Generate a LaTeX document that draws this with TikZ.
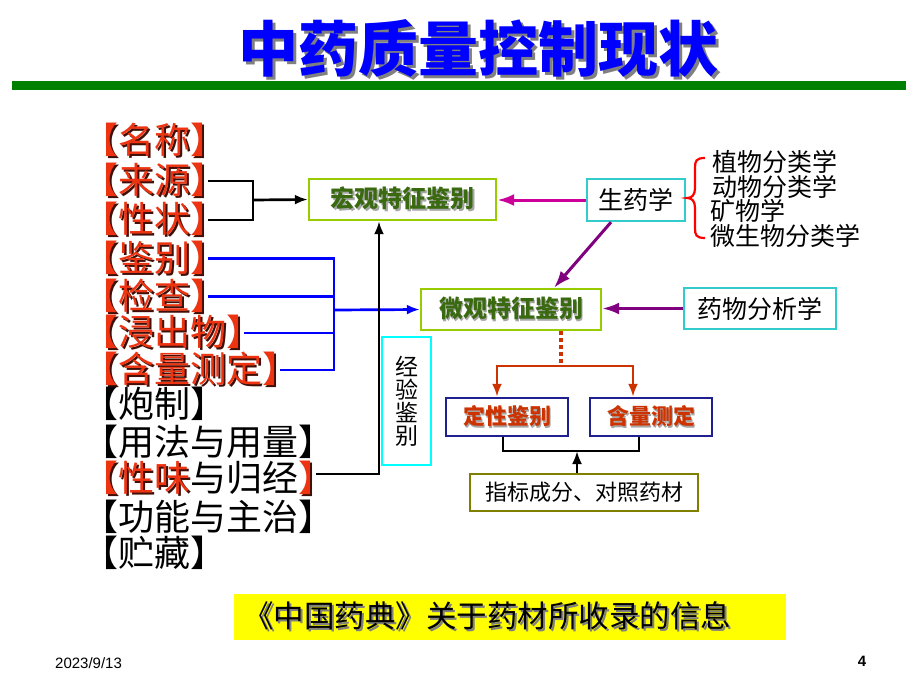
\documentclass[tikz,border=0pt]{standalone}
\usepackage{fontspec}
\setmainfont{Noto Sans CJK SC}
\newfontfamily\hfont[RawFeature=+halt]{Noto Sans CJK SC}
\newfontfamily\arial{Liberation Sans}
\usetikzlibrary{arrows.meta}
\definecolor{titleblue}{HTML}{0000FF}
\definecolor{barGreen}{HTML}{008000}
\definecolor{listred}{HTML}{EE3311}
\definecolor{redshadow}{HTML}{401008}
\definecolor{boxgreen}{HTML}{99CC00}
\definecolor{txtgreen}{HTML}{3A6A10}
\definecolor{tealb}{HTML}{33CCCC}
\definecolor{cyanb}{HTML}{00FFFF}
\definecolor{magarrow}{HTML}{CC0099}
\definecolor{purp}{HTML}{800080}
\definecolor{orred}{HTML}{CC3300}
\definecolor{navyb}{HTML}{1F1F8F}
\definecolor{oliveb}{HTML}{808000}
\definecolor{yel}{HTML}{FFFF00}
\newcommand\shd[4]{\makebox[0pt][l]{\kern#4\raisebox{-#4}{\textcolor{#1}{#3}}}\textcolor{#2}{#3}}
\begin{document}
\begin{tikzpicture}[x=1pt,y=-1pt,
  item/.style={anchor=west, inner sep=0pt, font=\hfont\fontsize{36}{36}\selectfont},
  ritem/.style={anchor=west, inner sep=0pt, font=\fontsize{25}{25}\selectfont},
  tip/.style={-{Latex[length=13pt,width=10pt]}},
  bigtip/.style={-{Latex[length=17pt,width=12pt]}},
  blkline/.style={draw=black, line width=2.7pt},
  blueline/.style={draw=blue, line width=2.7pt},
  magline/.style={draw=magarrow, line width=3pt},
  purpline/.style={draw=purp, line width=3pt},
  orline/.style={draw=orred, line width=2.7pt},
  gbox/.style={draw=boxgreen, line width=2.4pt, inner sep=0pt, minimum height=41pt, font=\fontsize{24}{24}\selectfont\bfseries},
  tbox/.style={draw=tealb, line width=2.4pt, inner sep=0pt, minimum height=41pt, font=\fontsize{25}{25}\selectfont},
  nbox/.style={draw=navyb, line width=2.4pt, inner sep=0pt, minimum width=122pt, minimum height=38pt, font=\fontsize{22}{22}\selectfont\bfseries},
  ]
\useasboundingbox (0,0) rectangle (920,690);
\fill[white] (0,0) rectangle (920,690);

% title
\node[inner sep=0pt, font=\fontsize{60}{60}\selectfont\bfseries] (title) at (478,50) {\shd{gray}{titleblue}{中药质量控制现状}{3.5pt}};
\fill[barGreen] (12,81) rectangle (906,90);

% left list
\node[item] (nm1) at (100,141) {\shd{redshadow}{listred}{【名称】}{2pt}};
\node[item] (nm2) at (100,181) {\shd{redshadow}{listred}{【来源】}{2pt}};
\node[item] (nm3) at (100,220) {\shd{redshadow}{listred}{【性状】}{2pt}};
\node[item] (nm4) at (100,258.5) {\shd{redshadow}{listred}{【鉴别】}{2pt}};
\node[item] (nm5) at (100,296.5) {\shd{redshadow}{listred}{【检查】}{2pt}};
\node[item] (nm6) at (100,333) {\shd{redshadow}{listred}{【浸出物】}{2pt}};
\node[item] (nm7) at (100,370) {\shd{redshadow}{listred}{【含量测定】}{2pt}};
\node[item] (nm8) at (100,404) {【炮制】};
\node[item] (nm9) at (100,442) {【用法与用量】};
\node[item] (nm10) at (100,479) {\shd{redshadow}{listred}{【性味}{2pt}与归经\shd{redshadow}{listred}{】}{2pt}};
\node[item] (nm11) at (100,517) {【功能与主治】};
\node[item] (nm12) at (100,553) {【贮藏】};

% boxes
\node[gbox, minimum width=187pt] (hongguan) at (402.5,199.5) {\shd{gray!70}{txtgreen}{宏观特征鉴别}{1.5pt}};
\node[gbox, minimum width=180pt] (weiguan) at (511,309.5) {\shd{gray!70}{txtgreen}{微观特征鉴别}{1.5pt}};
\node[tbox, minimum width=98pt, minimum height=42pt] (shengyao) at (636,200) {生药学};
\node[tbox, minimum width=152pt] (yaowu) at (760,308.5) {药物分析学};
\node[draw=cyanb, line width=2.4pt, inner sep=0pt, minimum width=49pt, minimum height=128pt, align=center, font=\fontsize{23}{23}\selectfont] (jingyan) at (406.5,401) {经\\验\\鉴\\别};
\node[nbox] (dingxing) at (507,417) {\shd{gray!70}{orred}{定性鉴别}{1.5pt}};
\node[nbox] (hanliang) at (651,417) {\shd{gray!70}{orred}{含量测定}{1.5pt}};
\node[draw=oliveb, line width=2.4pt, inner sep=0pt, minimum width=228pt, minimum height=37pt, font=\fontsize{22}{22}\selectfont] (zhibiao) at (584,492.5) {指标成分、对照药材};
\node[fill=yel, inner sep=0pt, minimum width=552pt, minimum height=46pt] (ybox) at (509.5,617) {};
\node[anchor=west, inner sep=0pt, font=\fontsize{30.5}{30.5}\selectfont] (ytext) at (243,617) {\shd{gray}{black}{《中国药典》关于药材所收录的信息}{2pt}};

% right list
\node[ritem] (r1) at (712,162) {植物分类学};
\node[ritem] (r2) at (712,187) {动物分类学};
\node[ritem] (r3) at (710,211) {矿物学};
\node[ritem] (r4) at (710,236) {微生物分类学};
\draw[draw=red, line width=2.2pt] (705,158) .. controls (696,158) and (695,161) .. (695,168) -- (695,188) .. controls (695,195) and (692,198) .. (687,198) .. controls (692,198) and (695,201) .. (695,208) -- (695,228) .. controls (695,235) and (696,238) .. (705,238);

% footer
\node[anchor=west, inner sep=0pt, font=\arial\fontsize{15}{15}\selectfont] (date) at (55,663) {2023/9/13};
\node[inner sep=0pt, font=\arial\fontsize{15}{15}\selectfont\bfseries] (page) at (862,661) {4};

% connectors
\coordinate (j1) at (253,200);
\draw[blkline] (nm2.east) -| (j1);
\draw[blkline] (nm3.east) -| (j1);
\draw[blkline, tip] (j1) -- (hongguan.west);

\coordinate (j2) at (334,310);
\draw[blueline] (nm4.east) -| (j2);
\draw[blueline] (nm5.east) -| (j2);
\draw[blueline] (nm6.east) -| (j2);
\draw[blueline] (nm7.east) -| (j2);
\draw[blueline, tip] (j2) -- (weiguan.west);

\coordinate (j3) at (379,0);
\draw[blkline, tip] ([yshift=5pt]nm10.east) -| (hongguan.south -| j3);

\draw[magline, bigtip] (shengyao.west) -- (shengyao.west -| hongguan.east);
\draw[purpline, bigtip] ([xshift=-25pt]shengyao.south) -- ([xshift=43pt]weiguan.north);
\draw[purpline, bigtip] (yaowu.west) -- (yaowu.west -| weiguan.east);

\coordinate (j4) at (561,366);
\draw[orline, line width=3.4pt, dash pattern=on 4pt off 3pt] ([xshift=50pt]weiguan.south) -- (j4);
\draw[orline, tip] (j4) -| ([xshift=-10pt]dingxing.north);
\draw[orline, tip] (j4) -| ([xshift=-18pt]hanliang.north);

\coordinate (j5) at (577,451);
\draw[blkline] ([xshift=-4pt]dingxing.south) |- (j5) -| ([xshift=-12pt]hanliang.south);
\draw[blkline, tip] ([xshift=-7pt]zhibiao.north) -- (j5);
\end{tikzpicture}
\end{document}
